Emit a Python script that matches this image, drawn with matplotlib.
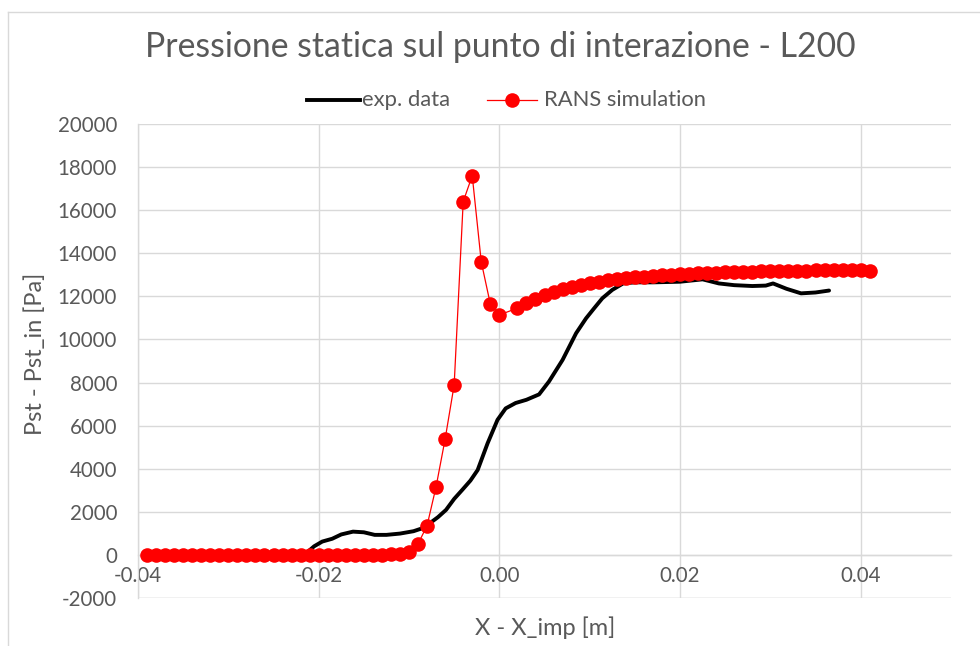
import matplotlib
matplotlib.use("Agg")
import matplotlib.pyplot as plt
from matplotlib.lines import Line2D

plt.rcParams['font.family'] = ['Lato', 'DejaVu Sans']

# Experimental static pressure
exp_x = [-0.0216, -0.0205, -0.0196, -0.0185, -0.0175, -0.0162, -0.0150, -0.0138,
         -0.0125, -0.0110, -0.0095, -0.0085, -0.0077, -0.0068, -0.0059, -0.0050,
         -0.0041, -0.0032, -0.0024, -0.0013, -0.0002, 0.0007, 0.0018, 0.0030,
         0.0044, 0.0055, 0.0070, 0.0085, 0.0096, 0.0105, 0.0114, 0.0125,
         0.0137, 0.0150, 0.0170, 0.0200, 0.0225, 0.0243, 0.0260, 0.0280,
         0.0295, 0.0303, 0.0318, 0.0334, 0.0350, 0.0365]
exp_p = [0, 400, 620, 750, 950, 1080, 1050, 930,
         930, 990, 1100, 1240, 1470, 1750, 2090, 2600,
         3020, 3450, 3940, 5180, 6270, 6800, 7050, 7200,
         7450, 8050, 9050, 10290, 10980, 11450, 11910, 12300,
         12600, 12650, 12650, 12680, 12790, 12600, 12520, 12480,
         12500, 12600, 12350, 12140, 12180, 12270]

# RANS simulation
sim_x = [-0.039, -0.038, -0.037, -0.036, -0.035, -0.034, -0.033, -0.032, -0.031, -0.030,
         -0.029, -0.028, -0.027, -0.026, -0.025, -0.024, -0.023, -0.022, -0.021, -0.020,
         -0.019, -0.018, -0.017, -0.016, -0.015, -0.014, -0.013, -0.012, -0.011, -0.010,
         -0.009, -0.008, -0.007, -0.006, -0.005, -0.004, -0.003, -0.002, -0.001, 0.000,
         0.002, 0.003, 0.004, 0.005, 0.006, 0.007, 0.008, 0.009, 0.010, 0.011,
         0.012, 0.013, 0.014, 0.015, 0.016, 0.017, 0.018, 0.019, 0.020, 0.021,
         0.022, 0.023, 0.024, 0.025, 0.026, 0.027, 0.028, 0.029, 0.030, 0.031,
         0.032, 0.033, 0.034, 0.035, 0.036, 0.037, 0.038, 0.039, 0.040, 0.041]
sim_p = [0, 0, 0, 0, 0, 0, 0, 0, 0, 0,
         0, 0, 0, 0, 0, 0, 0, 0, 0, 0,
         0, 0, 0, 0, 0, 0, 0, 20, 60, 150,
         510, 1360, 3170, 5380, 7890, 16400, 17600, 13600, 11650, 11140,
         11450, 11700, 11900, 12080, 12220, 12340, 12440, 12530, 12610, 12680,
         12740, 12790, 12840, 12880, 12920, 12950, 12980, 13010, 13030, 13050,
         13070, 13090, 13100, 13120, 13130, 13140, 13150, 13160, 13170, 13180,
         13190, 13195, 13200, 13205, 13210, 13215, 13220, 13220, 13220, 13160]

x_ticks = [-0.04, -0.02, 0.00, 0.02, 0.04]
x_tick_labels = ["-0.04", "-0.02", "0.00", "0.02", "0.04"]
y_ticks = [-2000, 0, 2000, 4000, 6000, 8000, 10000, 12000, 14000, 16000, 18000, 20000]

TXT = "#595959"
GRID = "#d9d9d9"
W, H = 980, 646

fig = plt.figure(figsize=(W / 100, H / 100), dpi=100)
ax = fig.add_axes([138 / W, 1 - 598 / H, (951 - 138) / W, (598 - 124) / H])

ax.plot(exp_x, exp_p, color="black", lw=2.8, solid_joinstyle="round",
        solid_capstyle="round", zorder=3)
ax.plot(sim_x, sim_p, color="#ff0000", lw=0.9, marker="o", markersize=10.5,
        markeredgewidth=0, zorder=4)

ax.set_xlim(-0.04, 0.05)
ax.set_ylim(-2000, 20000)
ax.set_xticks(x_ticks)
ax.set_xticklabels(x_tick_labels)
ax.set_yticks(y_ticks)
ax.set_yticklabels([str(v) for v in y_ticks])
ax.tick_params(length=0, labelsize=14.8, labelcolor=TXT)
ax.tick_params(axis="y", pad=15)
ax.tick_params(axis="x", pad=8)

ax.grid(True, color=GRID, lw=1.0, zorder=0)
ax.set_axisbelow(True)
for s in ("top", "right"):
    ax.spines[s].set_visible(False)
ax.spines["left"].set_color(GRID)
ax.spines["left"].set_linewidth(1.0)
ax.spines["bottom"].set_position(("data", 0))
ax.spines["bottom"].set_color(GRID)
ax.spines["bottom"].set_linewidth(1.0)

# lowest horizontal grid line at -2000
ax.axhline(-2000, color=GRID, lw=1.0, zorder=0)

fig.text(500 / W, 1 - 47 / H, "Pressione statica sul punto di interazione - L200",
         ha="center", va="center", fontsize=24.3, color=TXT)
fig.text(545 / W, 1 - 628 / H, "X - X_imp [m]", ha="center", va="center",
         fontsize=17, color=TXT)
fig.text(35 / W, 1 - 354 / H, "Pst - Pst_in [Pa]", ha="center", va="center",
         rotation=90, fontsize=17, color=TXT)

# legend
ly = 1 - 100 / H
fig.add_artist(Line2D([307 / W, 360 / W], [ly, ly], color="black", lw=2.8,
                      transform=fig.transFigure))
fig.text(362 / W, ly, "exp. data", ha="left", va="center", fontsize=15.8, color=TXT)
fig.add_artist(Line2D([487 / W, 537 / W], [ly, ly], color="#ff0000", lw=0.9,
                      transform=fig.transFigure))
fig.add_artist(Line2D([512 / W], [ly], color="#ff0000", marker="o", markersize=10.5,
                      markeredgewidth=0, transform=fig.transFigure))
fig.text(544 / W, ly, "RANS simulation", ha="left", va="center", fontsize=15.8, color=TXT)

# chart area border
fig.add_artist(Line2D([7.5 / W, 7.5 / W], [0, 1 - 12 / H], color=GRID, lw=1.0,
                      transform=fig.transFigure))
fig.add_artist(Line2D([7.5 / W, 1], [1 - 12 / H, 1 - 12 / H], color=GRID, lw=1.0,
                      transform=fig.transFigure))

fig.savefig("out.png", dpi=100)
